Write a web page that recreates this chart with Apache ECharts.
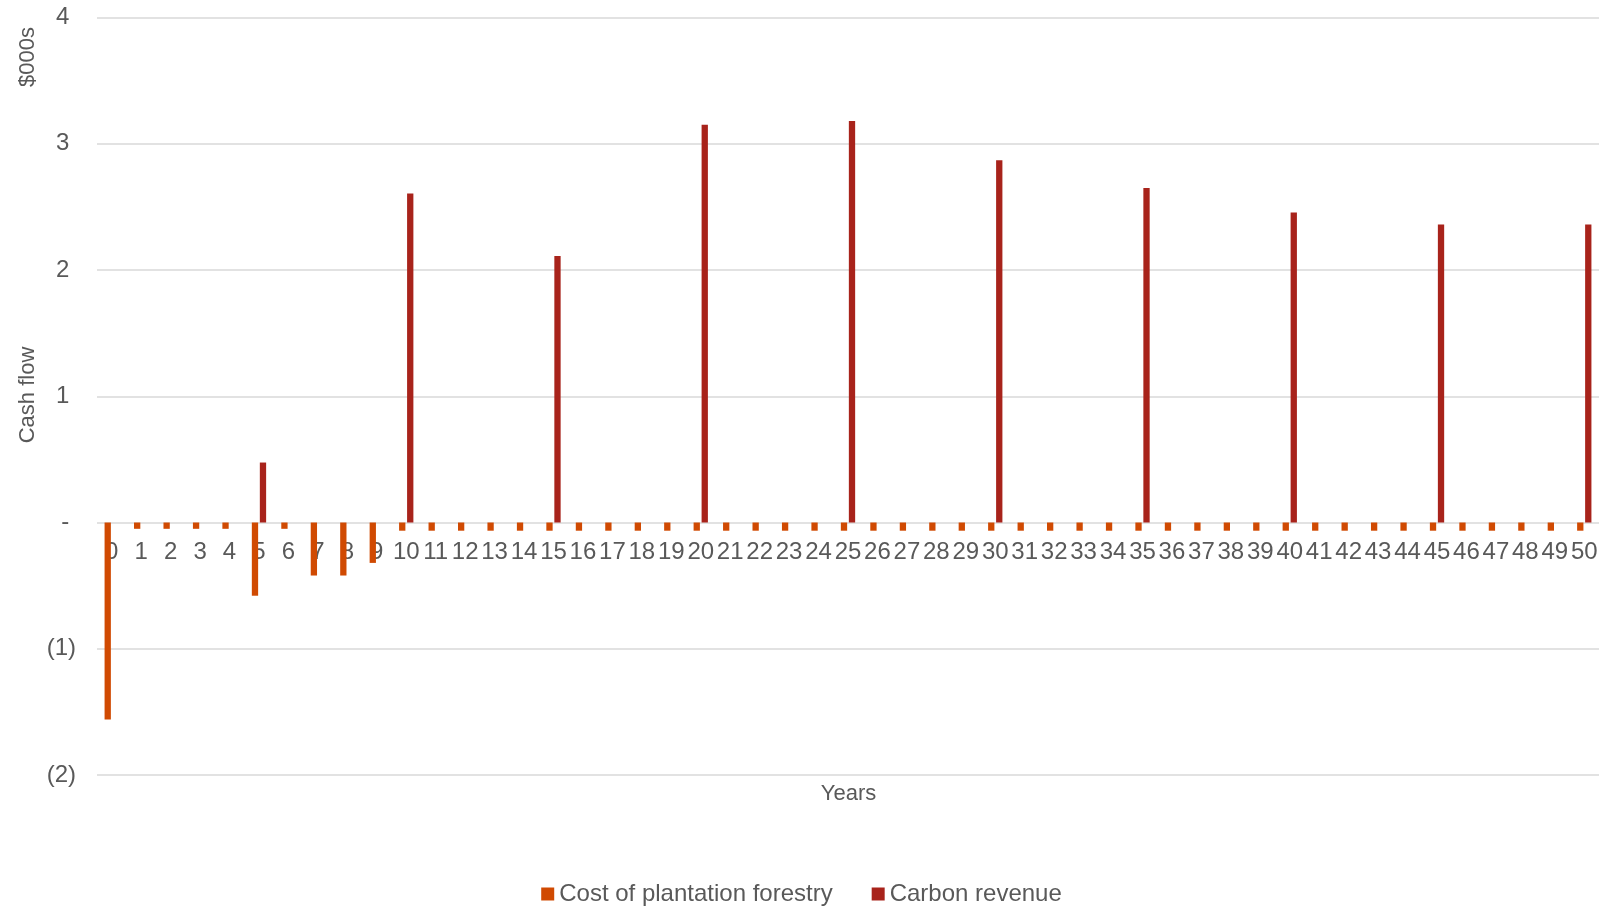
<!DOCTYPE html>
<html>
<head>
<meta charset="utf-8">
<title>Cash flow</title>
<script src="https://cdn.jsdelivr.net/npm/echarts@6/dist/echarts.min.js"></script>
<style>
  html, body { margin: 0; padding: 0; background: #ffffff; }
  #chart { width: 1603px; height: 909px; }
</style>
</head>
<body>
<div id="chart"></div>
<script>
// Years of the project
const years = ['0','1','2','3','4','5','6','7','8','9','10','11','12','13','14','15','16','17','18','19','20',
  '21','22','23','24','25','26','27','28','29','30','31','32','33','34','35','36','37','38','39','40',
  '41','42','43','44','45','46','47','48','49','50'];

// Cost of plantation forestry, $000s (negative = outflow)
const costOfForestry = [-1.56, -0.05, -0.05, -0.05, -0.05, -0.58, -0.05, -0.42, -0.42, -0.32,
  -0.065, -0.065, -0.065, -0.065, -0.065, -0.065, -0.065, -0.065, -0.065, -0.065,
  -0.065, -0.065, -0.065, -0.065, -0.065, -0.065, -0.065, -0.065, -0.065, -0.065,
  -0.065, -0.065, -0.065, -0.065, -0.065, -0.065, -0.065, -0.065, -0.065, -0.065,
  -0.065, -0.065, -0.065, -0.065, -0.065, -0.065, -0.065, -0.065, -0.065, -0.065, -0.065];

// Carbon revenue, $000s
const carbonRevenue = [0, 0, 0, 0, 0, 0.475, 0, 0, 0, 0,
  2.605, 0, 0, 0, 0, 2.11, 0, 0, 0, 0,
  3.15, 0, 0, 0, 0, 3.18, 0, 0, 0, 0,
  2.87, 0, 0, 0, 0, 2.65, 0, 0, 0, 0,
  2.455, 0, 0, 0, 0, 2.36, 0, 0, 0, 0, 2.36];

const seriesNames = ['Cost of plantation forestry', 'Carbon revenue'];

const textColor = '#595959';
const gridColor = '#D9D9D9';
const fontFamily = '"Liberation Sans", Arial, sans-serif';

// Accounting-style value labels: 4, -, (1)
function accounting(v) {
  if (v === 0) return '- ';
  if (v < 0) return '(' + (-v) + ')';
  return v + ' ';
}

const chart = echarts.init(document.getElementById('chart'), null, { renderer: 'canvas' });

chart.setOption({
  backgroundColor: '#ffffff',
  animation: false,
  textStyle: { fontFamily: fontFamily },
  grid: { left: 97, right: 4, top: 17.5, bottom: 134, containLabel: false },
  legend: {
    data: seriesNames,
    left: 'center',
    top: 877,
    icon: 'rect',
    itemWidth: 13,
    itemHeight: 13,
    itemGap: 39,
    textStyle: { color: textColor, fontSize: 24, fontFamily: fontFamily }
  },
  xAxis: {
    type: 'category',
    data: years,
    // year labels sit just under the zero line (two units above the grid floor)
    offset: -252.5,
    axisLine: { show: false, onZero: false },
    axisTick: { show: false },
    axisLabel: {
      interval: 0,
      color: textColor,
      fontSize: 24,
      fontFamily: fontFamily,
      margin: 18
    },
    splitLine: { show: false }
  },
  yAxis: {
    type: 'value',
    min: -2,
    max: 4,
    interval: 1,
    axisLine: { show: false },
    axisTick: { show: false },
    axisLabel: {
      color: textColor,
      fontSize: 24,
      fontFamily: fontFamily,
      margin: 21,
      formatter: accounting
    },
    splitLine: { show: true, lineStyle: { color: gridColor, width: 1.5 } }
  },
  graphic: [
    {
      type: 'text', x: 27.5, y: 57, rotation: Math.PI / 2,
      style: { text: '$000s', fill: textColor, font: '22px ' + fontFamily, align: 'center', verticalAlign: 'middle' }
    },
    {
      type: 'text', x: 27.5, y: 395, rotation: Math.PI / 2,
      style: { text: 'Cash flow', fill: textColor, font: '22px ' + fontFamily, align: 'center', verticalAlign: 'middle' }
    },
    {
      type: 'text', x: 848.5, y: 794,
      style: { text: 'Years', fill: textColor, font: '22px ' + fontFamily, align: 'center', verticalAlign: 'middle' }
    }
  ],
  series: [
    {
      name: seriesNames[0],
      type: 'bar',
      data: costOfForestry,
      barWidth: 6.3,
      barGap: '27%',
      itemStyle: { color: '#D04A02' }
    },
    {
      name: seriesNames[1],
      type: 'bar',
      data: carbonRevenue,
      barWidth: 6.3,
      itemStyle: { color: '#A8231B' }
    }
  ]
});
</script>
</body>
</html>
